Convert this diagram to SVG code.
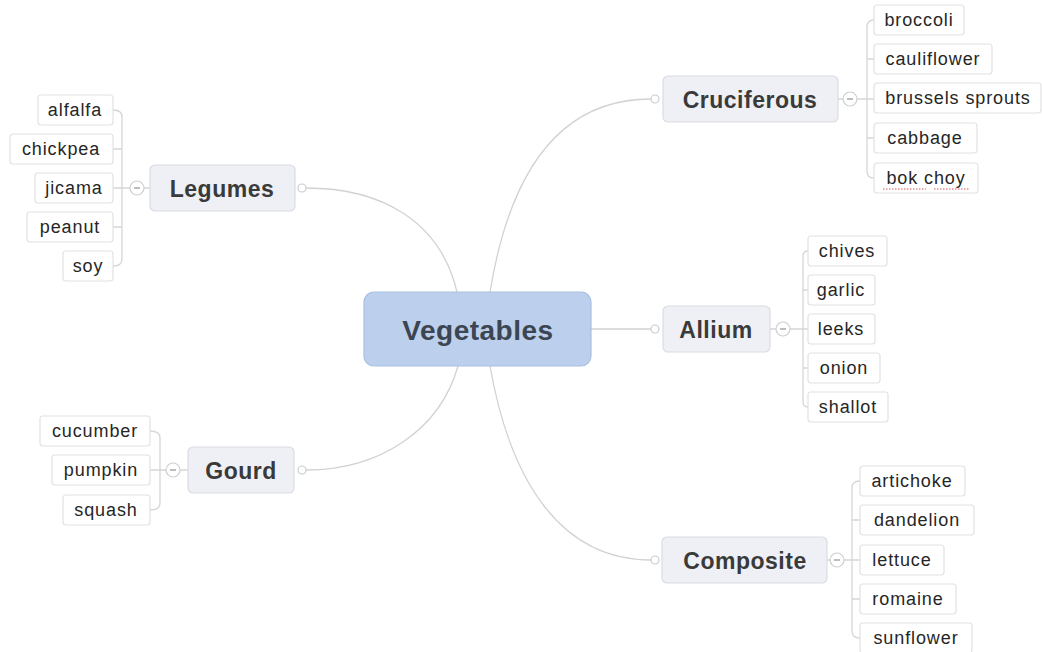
<svg xmlns="http://www.w3.org/2000/svg" width="1042" height="652" viewBox="0 0 1042 652">
<style>
.bg{fill:#ffffff}
.ln{fill:none;stroke:#d2d2d2;stroke-width:1.3}
.br{fill:none;stroke:#d6d6d6;stroke-width:1.3}
.root rect{fill:#bccfec;stroke:#a9bfe2;stroke-width:1.2}
.root text{font-family:"Liberation Sans",Arial,sans-serif;font-weight:bold;font-size:28px;fill:#3c4552;letter-spacing:0.5px;text-anchor:middle;dominant-baseline:central}
.mid rect{fill:#eef0f5;stroke:#d9dce3;stroke-width:1.2}
.mid text{font-family:"Liberation Sans",Arial,sans-serif;font-weight:bold;font-size:23px;fill:#3a3a3a;letter-spacing:0.5px;text-anchor:middle;dominant-baseline:central}
.leaf rect{fill:#ffffff;stroke:#e2e2e2;stroke-width:1.2}
.leaf text{font-family:"Liberation Sans",Arial,sans-serif;font-size:18px;fill:#262626;letter-spacing:0.9px;text-anchor:middle;dominant-baseline:central}
.dot{fill:#ffffff;stroke:#cccccc;stroke-width:1.2}
.col{fill:#ffffff;stroke:#cfcfcf;stroke-width:1.2}
.minus{stroke:#999999;stroke-width:1.3}
</style>
<rect class="bg" x="0" y="0" width="1042" height="652"/>

<g id="connectors">
  <path class="ln" d="M490,292 C510,170 560,99 651,99"/>
  <path class="ln" d="M591,329 L651,329"/>
  <path class="ln" d="M490,366 C510,480 560,560 651,560"/>
  <path class="ln" d="M457,292 C440,220 380,188 306,188"/>
  <path class="ln" d="M458,366 C440,430 380,470 306,470"/>
  <path class="br" d="M838,99 H843 M857,99 H874 M874,20 Q867,20 867,27 V171 Q867,178 874,178 M867,59 H874 M867,138 H874"/>
  <path class="br" d="M770,329 H776 M790,329 H808 M808,251 Q803,251 803,256 V402 Q803,407 808,407 M803,290 H808 M803,368 H808"/>
  <path class="br" d="M827,560 H830 M844,560 H860 M860,481 Q852,481 852,488 V631 Q852,638 860,638 M852,520 H860 M852,599 H860"/>
  <path class="br" d="M150,188 H144 M130,188 H113 M113,110 Q122,110 122,117 V259 Q122,266 113,266 M122,149 H113 M122,227 H113"/>
  <path class="br" d="M188,470 H180 M166,470 H150 M150,431 Q160,431 160,438 V503 Q160,510 150,510"/>
</g>

<g id="root" class="root">
  <rect x="364" y="292" width="227" height="74" rx="10"/>
  <text x="478" y="330">Vegetables</text>
</g>

<g id="cruciferous" class="mid">
  <circle class="dot" cx="655" cy="99" r="4"/>
  <rect x="663" y="76" width="175" height="46" rx="5"/>
  <text x="750" y="100">Cruciferous</text>
  <circle class="col" cx="850" cy="99" r="7"/>
  <line class="minus" x1="847" y1="99" x2="853" y2="99"/>
</g>
<g id="allium" class="mid">
  <circle class="dot" cx="655" cy="329" r="4"/>
  <rect x="663" y="306" width="107" height="46" rx="5"/>
  <text x="716" y="330">Allium</text>
  <circle class="col" cx="783" cy="329" r="7"/>
  <line class="minus" x1="780" y1="329" x2="786" y2="329"/>
</g>
<g id="composite" class="mid">
  <circle class="dot" cx="655" cy="560" r="4"/>
  <rect x="662" y="537" width="165" height="46" rx="5"/>
  <text x="745" y="561">Composite</text>
  <circle class="col" cx="837" cy="560" r="7"/>
  <line class="minus" x1="834" y1="560" x2="840" y2="560"/>
</g>
<g id="legumes" class="mid">
  <circle class="dot" cx="302" cy="188" r="4"/>
  <rect x="150" y="165" width="145" height="46" rx="5"/>
  <text x="222" y="189">Legumes</text>
  <circle class="col" cx="137" cy="188" r="7"/>
  <line class="minus" x1="134" y1="188" x2="140" y2="188"/>
</g>
<g id="gourd" class="mid">
  <circle class="dot" cx="302" cy="470" r="4"/>
  <rect x="188" y="447" width="106" height="46" rx="5"/>
  <text x="241" y="471">Gourd</text>
  <circle class="col" cx="173" cy="470" r="7"/>
  <line class="minus" x1="170" y1="470" x2="176" y2="470"/>
</g>

<g id="broccoli" class="leaf"><rect x="874" y="5" width="90" height="30" rx="3"/><text x="919" y="20">broccoli</text></g>
<g id="cauliflower" class="leaf"><rect x="874" y="44" width="118" height="30" rx="3"/><text x="933" y="59">cauliflower</text></g>
<g id="brussels" class="leaf"><rect x="874" y="83" width="167" height="30" rx="3"/><text x="958" y="98">brussels sprouts</text></g>
<g id="cabbage" class="leaf"><rect x="874" y="123" width="103" height="30" rx="3"/><text x="925" y="138">cabbage</text></g>
<g id="bokchoy" class="leaf"><rect x="874" y="163" width="104" height="30" rx="3"/><text x="926" y="178">bok choy</text>
  <path d="M883,189 H926 M934,189 H970" stroke="#d9534f" stroke-width="1.2" stroke-dasharray="1.5,1.5" fill="none"/></g>

<g id="chives" class="leaf"><rect x="808" y="236" width="79" height="30" rx="3"/><text x="847" y="251">chives</text></g>
<g id="garlic" class="leaf"><rect x="808" y="275" width="67" height="30" rx="3"/><text x="841" y="290">garlic</text></g>
<g id="leeks" class="leaf"><rect x="808" y="314" width="67" height="30" rx="3"/><text x="841" y="329">leeks</text></g>
<g id="onion" class="leaf"><rect x="808" y="353" width="72" height="30" rx="3"/><text x="844" y="368">onion</text></g>
<g id="shallot" class="leaf"><rect x="808" y="392" width="80" height="30" rx="3"/><text x="848" y="407">shallot</text></g>

<g id="artichoke" class="leaf"><rect x="860" y="466" width="105" height="30" rx="3"/><text x="912" y="481">artichoke</text></g>
<g id="dandelion" class="leaf"><rect x="860" y="505" width="114" height="30" rx="3"/><text x="917" y="520">dandelion</text></g>
<g id="lettuce" class="leaf"><rect x="860" y="545" width="84" height="30" rx="3"/><text x="902" y="560">lettuce</text></g>
<g id="romaine" class="leaf"><rect x="860" y="584" width="96" height="30" rx="3"/><text x="908" y="599">romaine</text></g>
<g id="sunflower" class="leaf"><rect x="860" y="623" width="112" height="30" rx="3"/><text x="916" y="638">sunflower</text></g>

<g id="alfalfa" class="leaf"><rect x="38" y="95" width="75" height="30" rx="3"/><text x="75" y="110">alfalfa</text></g>
<g id="chickpea" class="leaf"><rect x="10" y="134" width="103" height="30" rx="3"/><text x="61" y="149">chickpea</text></g>
<g id="jicama" class="leaf"><rect x="35" y="173" width="78" height="30" rx="3"/><text x="74" y="188">jicama</text></g>
<g id="peanut" class="leaf"><rect x="27" y="212" width="86" height="30" rx="3"/><text x="70" y="227">peanut</text></g>
<g id="soy" class="leaf"><rect x="63" y="251" width="50" height="30" rx="3"/><text x="88" y="266">soy</text></g>

<g id="cucumber" class="leaf"><rect x="40" y="416" width="110" height="30" rx="3"/><text x="95" y="431">cucumber</text></g>
<g id="pumpkin" class="leaf"><rect x="52" y="455" width="98" height="30" rx="3"/><text x="101" y="470">pumpkin</text></g>
<g id="squash" class="leaf"><rect x="63" y="495" width="87" height="30" rx="3"/><text x="106" y="510">squash</text></g>
</svg>
